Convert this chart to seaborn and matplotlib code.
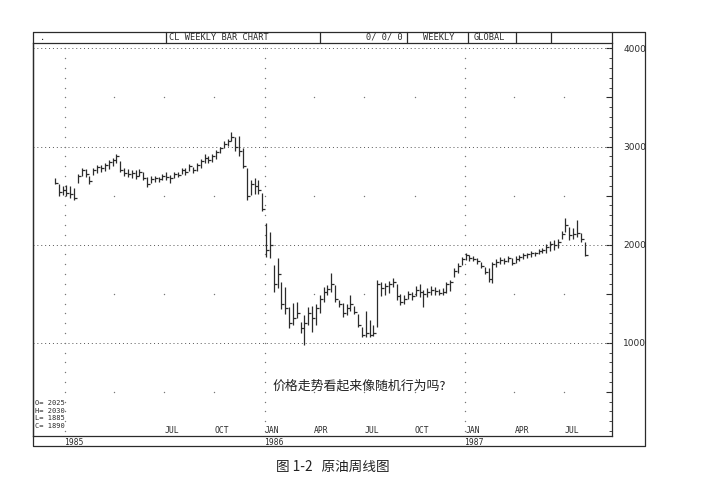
import numpy as np
import pandas as pd
import matplotlib
matplotlib.use("Agg")
import matplotlib.pyplot as plt
import matplotlib.dates as mdates
from matplotlib.ticker import MultipleLocator, FuncFormatter
import seaborn as sns

# 周线数据 (1984-12 ~ 1987-08)，读自原图
week_start = "1984-12-14"
highs = [2680, 2620, 2600, 2610, 2600, 2580, 2720, 2780, 2770, 2700,
         2780, 2810, 2810, 2830, 2860, 2880, 2920, 2850, 2780, 2770,
         2760, 2760, 2770, 2740, 2690, 2700, 2700, 2690, 2720, 2740,
         2710, 2740, 2740, 2780, 2780, 2820, 2790, 2830, 2870, 2920,
         2900, 2920, 2960, 3000, 3060, 3080, 3150, 3100, 3110, 2990,
         2780, 2660, 2680, 2660, 2530, 2220, 2130, 1790, 1860, 1620,
         1570, 1360, 1410, 1420, 1210, 1280, 1360, 1370, 1400, 1490,
         1570, 1590, 1710, 1590, 1440, 1410, 1400, 1490, 1370, 1290,
         1160, 1320, 1230, 1180, 1640, 1620, 1610, 1630, 1660, 1600,
         1500, 1490, 1530, 1520, 1580, 1600, 1540, 1560, 1580, 1570,
         1550, 1560, 1620, 1640, 1760, 1810, 1870, 1920, 1890, 1880,
         1860, 1820, 1770, 1760, 1820, 1850, 1870, 1860, 1880, 1860,
         1880, 1890, 1910, 1920, 1940, 1930, 1960, 1970, 2010, 2040,
         2050, 2060, 2140, 2270, 2180, 2170, 2250, 2120, 2030]
lows = [2620, 2500, 2510, 2500, 2480, 2450, 2630, 2700, 2690, 2620,
        2710, 2730, 2740, 2750, 2770, 2800, 2830, 2740, 2700, 2690,
        2680, 2670, 2700, 2660, 2590, 2630, 2640, 2640, 2660, 2660,
        2630, 2680, 2690, 2720, 2710, 2750, 2730, 2750, 2780, 2830,
        2830, 2840, 2870, 2930, 2980, 3010, 3060, 2950, 2900, 2780,
        2460, 2510, 2520, 2520, 2340, 1870, 1860, 1520, 1560, 1340,
        1290, 1150, 1180, 1250, 1100, 980, 1180, 1110, 1180, 1300,
        1420, 1490, 1520, 1420, 1360, 1260, 1280, 1320, 1290, 1160,
        1060, 1060, 1060, 1070, 1160, 1480, 1490, 1510, 1570, 1440,
        1380, 1400, 1450, 1440, 1480, 1470, 1360, 1470, 1490, 1490,
        1490, 1490, 1510, 1530, 1670, 1710, 1790, 1840, 1830, 1830,
        1800, 1760, 1700, 1620, 1610, 1770, 1800, 1800, 1820, 1790,
        1810, 1830, 1850, 1860, 1870, 1880, 1900, 1910, 1920, 1940,
        1950, 1970, 2060, 2130, 2050, 2060, 2080, 2030, 1885]
closes = [2630, 2540, 2560, 2530, 2520, 2480, 2700, 2760, 2720, 2650,
          2760, 2790, 2780, 2810, 2840, 2860, 2900, 2760, 2730, 2720,
          2730, 2700, 2740, 2680, 2620, 2670, 2680, 2670, 2700, 2690,
          2680, 2720, 2710, 2760, 2740, 2800, 2760, 2810, 2850, 2880,
          2860, 2900, 2940, 2980, 3030, 3060, 3100, 3000, 2950, 2800,
          2500, 2620, 2600, 2560, 2360, 1950, 2000, 1600, 1700, 1400,
          1350, 1200, 1250, 1300, 1150, 1200, 1300, 1250, 1350, 1450,
          1520, 1550, 1600, 1450, 1400, 1300, 1350, 1400, 1310, 1180,
          1080, 1100, 1080, 1100, 1600, 1560, 1580, 1600, 1620, 1480,
          1420, 1450, 1500, 1480, 1540, 1520, 1500, 1520, 1540, 1530,
          1510, 1520, 1600, 1620, 1730, 1780, 1850, 1890, 1860, 1850,
          1830, 1780, 1720, 1650, 1800, 1820, 1840, 1830, 1860, 1810,
          1850, 1870, 1890, 1900, 1910, 1910, 1940, 1950, 1980, 2010,
          2000, 2030, 2110, 2200, 2100, 2110, 2120, 2060, 1890]

month_labels = ["JUL", "OCT", "JAN", "APR", "JUL", "OCT", "JAN", "APR", "JUL"]
month_dates = ["1985-07-01", "1985-10-01", "1986-01-01", "1986-04-01", "1986-07-01",
               "1986-10-01", "1987-01-01", "1987-04-01", "1987-07-01"]
year_labels = ["1985", "1986", "1987"]
year_dates = ["1985-01-01", "1986-01-01", "1987-01-01"]
quarter_dates = ["1985-04-01", "1985-07-01", "1985-10-01", "1986-04-01", "1986-07-01",
                 "1986-10-01", "1987-04-01", "1987-07-01"]
ohlc_text = ["O= 2025", "H= 2030", "L= 1885", "C= 1890"]

W, H = 713, 494
INK = "#2b2b2b"
MONO = "DejaVu Sans Mono"

sns.set_theme(style="white")
plt.rcParams["font.family"] = ["DejaVu Sans", "Noto Sans CJK SC"]

dates = pd.date_range(week_start, periods=len(highs), freq="W-FRI")
xd = mdates.date2num(dates)

fig = plt.figure(figsize=(W / 100, H / 100), dpi=100)
fig.patch.set_facecolor("white")
ax = fig.add_axes([33 / W, 1 - 436 / H, (612 - 33) / W, (436 - 43) / H])

# 网格点
for yv in [1000, 2000, 3000, 4000]:
    ax.axhline(yv, color="#555555", lw=0.7, ls=(0, (1, 3)), zorder=1)
yr_x, yr_y = [], []
for d in year_dates:
    for yv in range(100, 4001, 100):
        yr_x.append(mdates.date2num(pd.Timestamp(d)))
        yr_y.append(yv)
q_x, q_y = [], []
for d in quarter_dates:
    for yv in [500, 1500, 2500, 3500]:
        q_x.append(mdates.date2num(pd.Timestamp(d)))
        q_y.append(yv)
sns.scatterplot(x=yr_x + q_x, y=yr_y + q_y, s=1.0, color="#777777",
                linewidth=0, ax=ax, zorder=1)

# 周线 bar
ax.vlines(xd, lows, highs, color=INK, lw=0.9, zorder=3)
ax.plot(xd, closes, ls="none", marker=1, ms=2.2, mew=0.9, color=INK, zorder=3)

ax.set_xlim(mdates.date2num(pd.Timestamp("1984-11-04")),
            mdates.date2num(pd.Timestamp("1987-09-26")))
ax.set_ylim(50, 4055)
ax.set_xticks([])
ax.yaxis.tick_right()
ax.yaxis.set_major_locator(MultipleLocator(500))
ax.yaxis.set_minor_locator(MultipleLocator(100))
ax.yaxis.set_major_formatter(FuncFormatter(lambda v, p: f"{int(v)}" if v % 1000 == 0 and v > 0 else ""))
ax.tick_params(axis="y", which="major", direction="in", length=4, width=0.8,
               color=INK, labelsize=6.5, labelcolor=INK, pad=8, right=True, left=False)
ax.tick_params(axis="y", which="minor", direction="in", length=2, width=0.6,
               color=INK, right=True, left=False)
for s in ax.spines.values():
    s.set_color(INK)
    s.set_linewidth(0.9)

# 月份、年份标注
for lab, d in zip(month_labels, month_dates):
    ax.text(mdates.date2num(pd.Timestamp(d)), 0.015, lab, transform=ax.get_xaxis_transform(),
            ha="left", va="center", fontsize=5.8, family=MONO, color=INK)
for lab, d in zip(year_labels, year_dates):
    ax.text(mdates.date2num(pd.Timestamp(d)) - 2, -0.016, lab, transform=ax.get_xaxis_transform(),
            ha="left", va="center", fontsize=5.8, family=MONO, color=INK, clip_on=False)
for i, t in enumerate(ohlc_text):
    ax.text(0.003, 0.084 - i * 0.0195, t, transform=ax.transAxes, ha="left", va="center",
            fontsize=5.0, family=MONO, color=INK)

ax.text(mdates.date2num(pd.Timestamp("1986-01-15")), 560, "价格走势看起来像随机行为吗?",
        ha="left", va="center", fontsize=9.3, color="#222222",
        family=["Noto Sans CJK SC", "DejaVu Sans"])

# 外框与表头
ov = fig.add_axes([0, 0, 1, 1], zorder=5)
ov.set_xlim(0, W)
ov.set_ylim(H, 0)
ov.axis("off")
ov.patch.set_alpha(0)
lw = 0.9
ov.plot([33, 645, 645, 33, 33], [32, 32, 446, 446, 32], color=INK, lw=lw)
ov.plot([612, 612], [32, 43], color=INK, lw=lw)
for xv in [166, 320, 407, 468, 516, 551]:
    ov.plot([xv, xv], [32, 43], color=INK, lw=lw)
hdr = dict(va="center", fontsize=6.2, family=MONO, color=INK)
ov.text(40, 37.5, ".", ha="left", **hdr)
ov.text(169, 37.5, "CL WEEKLY BAR CHART", ha="left", **hdr)
ov.text(403, 37.5, "0/ 0/ 0", ha="right", **hdr)
ov.text(423, 37.5, "WEEKLY", ha="left", **hdr)
ov.text(474, 37.5, "GLOBAL", ha="left", **hdr)

fig.text(333 / W, 1 - 467 / H, "图 1-2   原油周线图", ha="center", va="center",
         fontsize=9.8, color="#222222", family=["Noto Sans CJK SC", "DejaVu Sans"])

fig.savefig("out.png", dpi=100, facecolor="white")
